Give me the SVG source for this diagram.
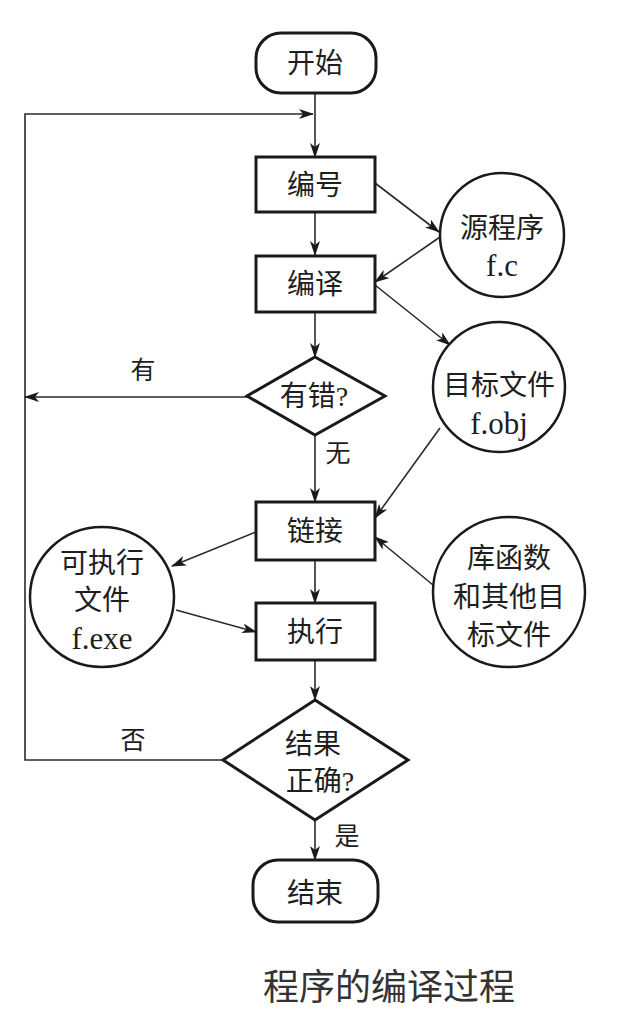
<svg xmlns="http://www.w3.org/2000/svg" width="621" height="1024" viewBox="0 0 621 1024">
<defs>
<marker id="ah" markerUnits="userSpaceOnUse" markerWidth="15" markerHeight="10" refX="14" refY="5" orient="auto">
<path d="M0,0 L15,5 L0,10 L4,5 Z" fill="#1a1a1a"/>
</marker>
</defs>
<style>
.box{fill:#fff;stroke:#1a1a1a;stroke-width:3}
.circ{fill:#fff;stroke:#1a1a1a;stroke-width:2.5}
.t{font-family:"Liberation Serif","Noto Sans CJK SC",serif;font-size:28px;fill:#1e1e1e;text-anchor:middle;dominant-baseline:central}
.lat{font-size:31px}
.lbl{font-family:"Liberation Serif","Noto Sans CJK SC",serif;font-size:25px;fill:#1e1e1e;text-anchor:middle;dominant-baseline:central}
.ca{fill:none;stroke:#2a2a2a;stroke-width:1.6;marker-end:url(#ah)}
</style>
<rect width="621" height="1024" fill="#fff"/>
<g id="connectors">
<line class="ca" x1="315" y1="93" x2="315" y2="157"/>
<line class="ca" x1="315" y1="212" x2="315" y2="255"/>
<line class="ca" x1="315" y1="312" x2="315" y2="357"/>
<line class="ca" x1="315" y1="435" x2="315" y2="502"/>
<line class="ca" x1="315" y1="560" x2="315" y2="603"/>
<line class="ca" x1="315" y1="660" x2="315" y2="700"/>
<line class="ca" x1="315" y1="820" x2="315" y2="860"/>
<path class="ca" d="M223,760 L25,760 L25,114 L313,114"/>
<line class="ca" x1="247" y1="397" x2="25" y2="397"/>
<line class="ca" x1="375" y1="183" x2="439" y2="232"/>
<line class="ca" x1="440" y1="237" x2="375" y2="282"/>
<line class="ca" x1="375" y1="285" x2="450" y2="345"/>
<line class="ca" x1="440" y1="428" x2="375" y2="518"/>
<line class="ca" x1="433" y1="585" x2="375" y2="537"/>
<line class="ca" x1="256" y1="532" x2="172" y2="566"/>
<line class="ca" x1="176" y1="610" x2="256" y2="632"/>
</g>
<g id="labels">
<text class="lbl" x="143" y="370">有</text>
<text class="lbl" x="338" y="453">无</text>
<text class="lbl" x="133" y="740">否</text>
<text class="lbl" x="347" y="836">是</text>
</g>
<g id="start">
<rect class="box" x="256" y="33" width="120" height="60" rx="25"/>
<text class="t" x="315" y="63">开始</text>
</g>
<g id="biaohao">
<rect class="box" x="256" y="157" width="119" height="55"/>
<text class="t" x="315" y="185">编号</text>
</g>
<g id="bianyi">
<rect class="box" x="256" y="256" width="119" height="56"/>
<text class="t" x="315" y="284">编译</text>
</g>
<g id="youcuo">
<polygon class="box" points="315,357 385,396 315,435 247,396"/>
<text class="t" x="314" y="396">有错?</text>
</g>
<g id="yuanchengxu">
<ellipse class="circ" cx="502" cy="235" rx="62" ry="62"/>
<text class="t" x="502" y="228">源程序</text>
<text class="t lat" x="502" y="265">f.c</text>
</g>
<g id="mubiao">
<ellipse class="circ" cx="499" cy="387" rx="66" ry="65"/>
<text class="t" x="499" y="385">目标文件</text>
<text class="t lat" x="499" y="423">f.obj</text>
</g>
<g id="lianjie">
<rect class="box" x="256" y="502" width="119" height="58"/>
<text class="t" x="315" y="531">链接</text>
</g>
<g id="kezhixing">
<ellipse class="circ" cx="102" cy="597" rx="72" ry="70"/>
<text class="t" x="102" y="563">可执行</text>
<text class="t" x="102" y="600">文件</text>
<text class="t lat" x="102" y="638">f.exe</text>
</g>
<g id="kuhanshu">
<ellipse class="circ" cx="509" cy="592" rx="76" ry="75"/>
<text class="t" x="509" y="558">库函数</text>
<text class="t" x="509" y="597">和其他目</text>
<text class="t" x="509" y="635">标文件</text>
</g>
<g id="zhixing">
<rect class="box" x="256" y="603" width="119" height="57"/>
<text class="t" x="315" y="632">执行</text>
</g>
<g id="jieguo">
<polygon class="box" points="315,700 408,760 315,820 223,760"/>
<text class="t" x="313" y="744">结果</text>
<text class="t" x="320" y="781">正确?</text>
</g>
<g id="end">
<rect class="box" x="253" y="860" width="125" height="62" rx="25"/>
<text class="t" x="315" y="893">结束</text>
</g>
<text x="389" y="988" font-family="Liberation Serif,Noto Sans CJK SC,serif" font-size="36" fill="#333" text-anchor="middle" dominant-baseline="central">程序的编译过程</text>
</svg>
